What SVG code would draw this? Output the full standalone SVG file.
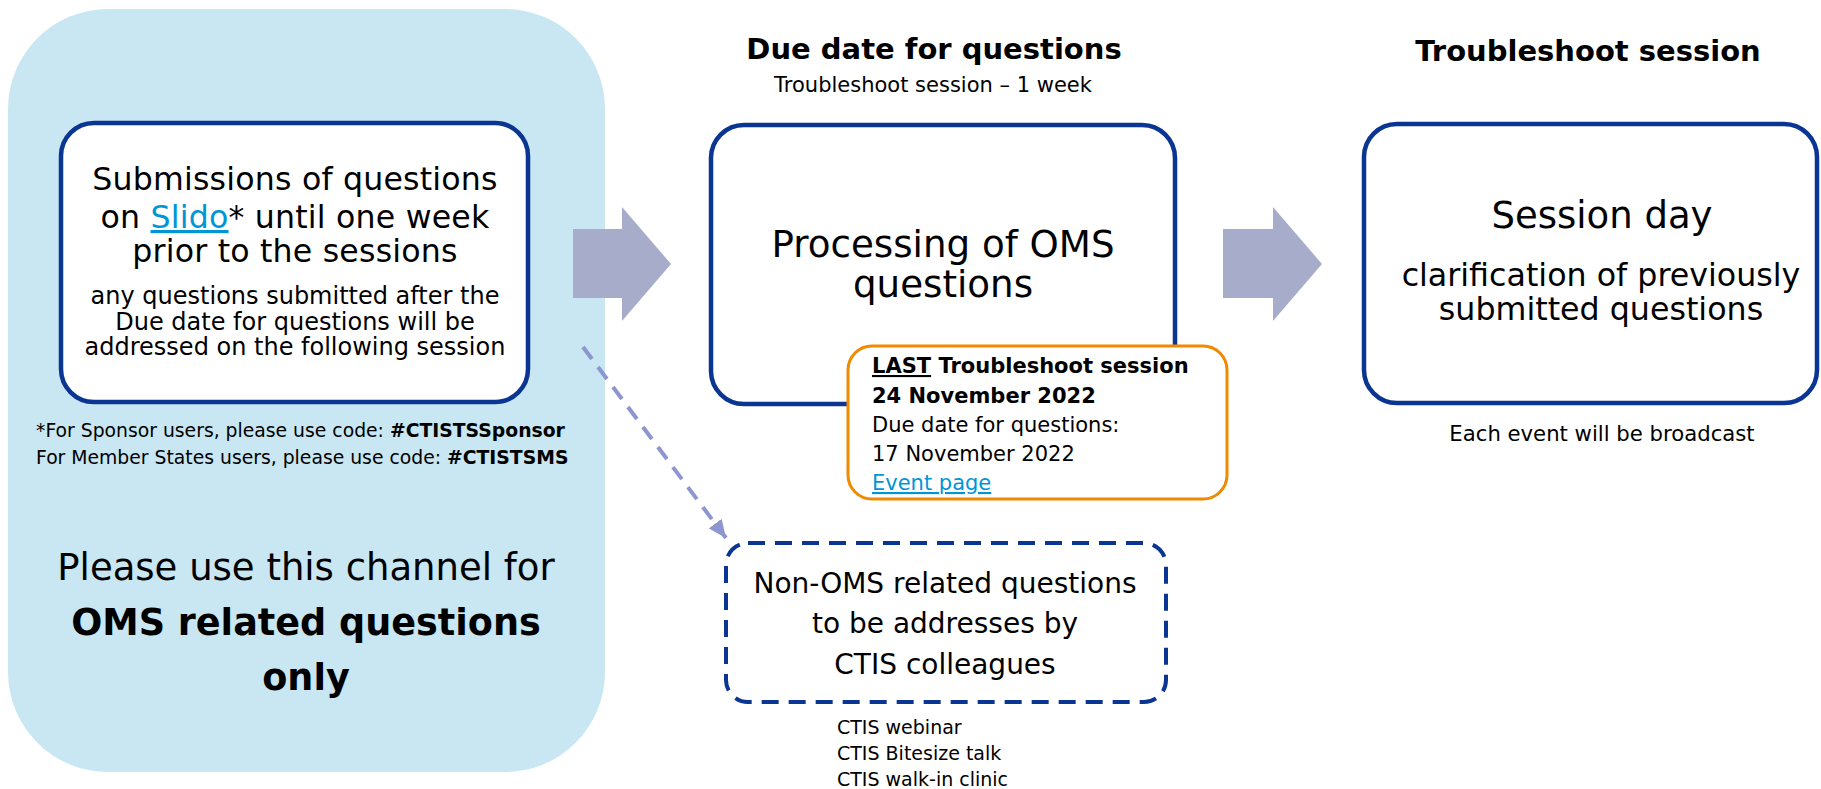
<svg xmlns="http://www.w3.org/2000/svg" width="1821" height="789" viewBox="0 0 1821 789">
<style>
text{font-family:"DejaVu Sans","Liberation Sans",sans-serif;fill:#000}
.c{text-anchor:middle}
.b{font-weight:bold}
.box{fill:#fff;stroke:#0B3593;stroke-width:4.5}
.blk{fill:#A8ACCB}
.lnk{fill:#0096D6;text-decoration:underline}
</style>
<defs>
<marker id="ah" markerUnits="userSpaceOnUse" markerWidth="18" markerHeight="16" viewBox="0 0 18 16" refX="18" refY="8" orient="auto">
<path d="M0,0 L18,8 L0,16 z" fill="#8E96CF"/>
</marker>
</defs>
<rect width="1821" height="789" fill="#fff"/>
<g id="panel">
<rect x="8" y="9" width="597" height="763" rx="100" ry="100" fill="#C9E7F2"/>
<text class="c" x="306" y="580" font-size="37">Please use this channel for</text>
<text class="c b" x="306" y="635" font-size="36.6">OMS related questions</text>
<text class="c b" x="306" y="690" font-size="36.6">only</text>
</g>
<g id="submissions">
<rect class="box" x="61" y="123" width="467" height="279" rx="33"/>
<text class="c" font-size="31.6" letter-spacing="0.2"><tspan x="295" y="190">Submissions of questions</tspan><tspan x="295" y="228">on <tspan class="lnk">Slido</tspan>* until one week</tspan><tspan x="295" y="262">prior to the sessions</tspan></text>
<text class="c" font-size="24"><tspan x="295" y="304">any questions submitted after the</tspan><tspan x="295" y="330">Due date for questions will be</tspan><tspan x="295" y="355">addressed on the following session</tspan></text>
<text font-size="18.8"><tspan x="36" y="437">*For Sponsor users, please use code: <tspan class="b">#CTISTSSponsor</tspan></tspan><tspan x="36" y="464">For Member States users, please use code: <tspan class="b">#CTISTSMS</tspan></tspan></text>
</g>
<g id="connectors">
<polygon class="blk" points="573,229 622,229 622,207 671,264 622,321 622,298 573,298"/>
<polygon class="blk" points="1223,229 1273,229 1273,207 1322,264 1273,321 1273,298 1223,298"/>
<path d="M583,347 L726,538" fill="none" stroke="#8E96CF" stroke-width="4" stroke-dasharray="15 10" marker-end="url(#ah)"/>
</g>
<g id="processing">
<text class="c b" x="934" y="59" font-size="29">Due date for questions</text>
<text class="c" x="933" y="92" font-size="21">Troubleshoot session – 1 week</text>
<rect class="box" x="711" y="125" width="464" height="279" rx="33"/>
<text class="c" font-size="37.2"><tspan x="943" y="257">Processing of OMS</tspan><tspan x="943" y="297">questions</tspan></text>
</g>
<g id="last-session">
<rect x="848" y="346" width="379" height="153" rx="24" fill="#fff" stroke="#F08A00" stroke-width="3"/>
<text font-size="21"><tspan x="872" y="373" class="b"><tspan text-decoration="underline">LAST</tspan> Troubleshoot session</tspan><tspan x="872" y="403" class="b">24 November 2022</tspan><tspan x="872" y="432">Due date for questions:</tspan><tspan x="872" y="461">17 November 2022</tspan><tspan x="872" y="490" class="lnk">Event page</tspan></text>
</g>
<g id="session-day">
<text class="c b" x="1588" y="61" font-size="29">Troubleshoot session</text>
<rect class="box" x="1364" y="124" width="453" height="279" rx="33"/>
<text class="c" x="1602" y="228" font-size="37">Session day</text>
<text class="c" font-size="31.7"><tspan x="1601" y="286">clarification of previously</tspan><tspan x="1601" y="320">submitted questions</tspan></text>
<text class="c" x="1602" y="441" font-size="21.2">Each event will be broadcast</text>
</g>
<g id="non-oms">
<rect x="726" y="543" width="440" height="159" rx="22" fill="none" stroke="#0B3593" stroke-width="4" stroke-dasharray="17 10"/>
<text class="c" font-size="28"><tspan x="945" y="593">Non-OMS related questions</tspan><tspan x="945" y="633">to be addresses by</tspan><tspan x="945" y="674">CTIS colleagues</tspan></text>
<text font-size="19"><tspan x="837" y="734">CTIS webinar</tspan><tspan x="837" y="760">CTIS Bitesize talk</tspan><tspan x="837" y="786">CTIS walk-in clinic</tspan></text>
</g>
</svg>
